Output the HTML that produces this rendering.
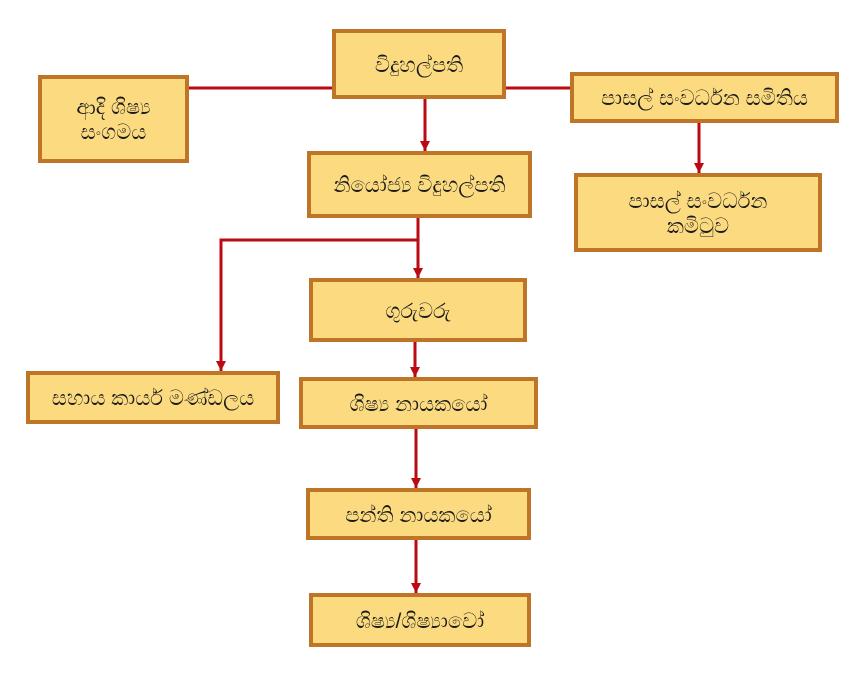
<!DOCTYPE html>
<html>
<head>
<meta charset="utf-8">
<style>
  html,body{margin:0;padding:0;background:#fff;}
  body{width:861px;height:695px;overflow:hidden;position:relative;font-family:"Liberation Sans","Noto Sans CJK SC",sans-serif;}
  svg{position:absolute;left:0;top:0;}
  .b{position:absolute;box-sizing:border-box;background:#FCDB80;border:4px solid #BF7528;display:flex;align-items:center;justify-content:center;text-align:center;color:#1a1a1a;font-size:21px;line-height:25px;padding-top:2px;}
</style>
</head>
<body>
<svg width="861" height="695" viewBox="0 0 861 695">
  <g stroke="#BC0A12" stroke-width="3" fill="none">
    <line x1="189" y1="88" x2="334" y2="88"/>
    <line x1="504" y1="88" x2="572" y2="88"/>
    <line x1="425" y1="99" x2="425" y2="151"/>
    <line x1="418" y1="218" x2="418" y2="278"/>
    <polyline points="418,240 221,240 221,371"/>
    <line x1="699" y1="123" x2="699" y2="173"/>
    <line x1="415" y1="342" x2="415" y2="377"/>
    <line x1="416" y1="429" x2="416" y2="488"/>
    <line x1="416" y1="540" x2="416" y2="593"/>
  </g>
  <g fill="#BC0A12">
    <path d="M420,141 L430,141 L425,151 Z"/>
    <path d="M413,268 L423,268 L418,278 Z"/>
    <path d="M216,361 L226,361 L221,371 Z"/>
    <path d="M694,163 L704,163 L699,173 Z"/>
    <path d="M410,367 L420,367 L415,377 Z"/>
    <path d="M411,478 L421,478 L416,488 Z"/>
    <path d="M411,583 L421,583 L416,593 Z"/>
  </g>
</svg>
<div class="b" style="left:332px;top:29px;width:174px;height:70px;">විදුහල්පති</div>
<div class="b" style="left:38px;top:75px;width:151px;height:88px;">ආදි ශිෂ්‍ය<br>සංගමය</div>
<div class="b" style="left:570px;top:72px;width:269px;height:51px;">පාසල් සංවර්ධන සමිතිය</div>
<div class="b" style="left:307px;top:151px;width:225px;height:67px;">නියෝජ්‍ය විදුහල්පති</div>
<div class="b" style="left:574px;top:173px;width:248px;height:79px;">පාසල් සංවර්ධන<br>කමිටුව</div>
<div class="b" style="left:309px;top:278px;width:218px;height:64px;">ගුරුවරු</div>
<div class="b" style="left:26px;top:371px;width:254px;height:53px;">සහාය කාර්ය මණ්ඩලය</div>
<div class="b" style="left:299px;top:377px;width:239px;height:52px;">ශිෂ්‍ය නායකයෝ</div>
<div class="b" style="left:306px;top:488px;width:225px;height:52px;">පන්ති නායකයෝ</div>
<div class="b" style="left:309px;top:593px;width:222px;height:54px;">ශිෂ්‍ය/ශිෂ්‍යාවෝ</div>
</body>
</html>
